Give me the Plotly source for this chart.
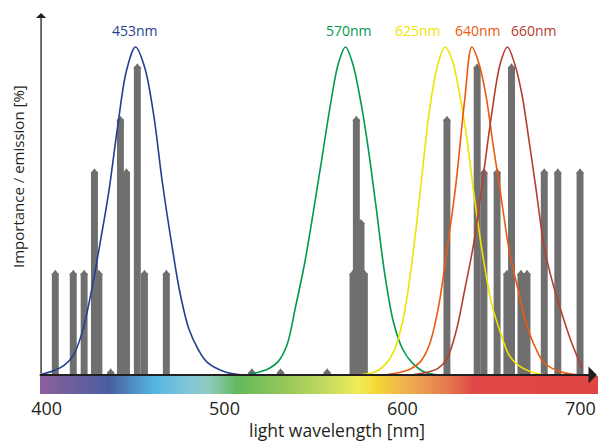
import numpy as np
import plotly.graph_objects as go

# ---------------- data ----------------
bar_nm = [404.9, 415.0, 421.1, 426.9, 429.4, 436.0, 441.5, 444.9, 451.0, 455.0, 467.3,
          515.4, 531.5, 557.7,
          572.2, 574.1, 576.7, 578.6,
          625.0, 642.0, 645.8, 653.2, 658.7, 661.3, 666.6, 670.0, 679.7, 687.3, 699.8]
bar_val = [31, 31, 31, 62, 31, 1, 78, 62, 94, 31, 31,
           1, 1, 1,
           31, 78, 46.5, 31,
           78, 94, 62, 62, 31, 94, 31, 31, 62, 62, 62]

blue_nm = [396, 405, 410, 415, 420, 425, 430, 435, 440, 445, 450, 455, 460, 465, 470, 475, 480, 485, 490, 500, 510]
blue_val = [0, 1.5, 3, 6, 13, 25, 40, 56, 76, 93, 100, 94, 80, 59, 41, 25, 14, 8, 4, 1, 0]

green_nm = [512, 520, 525, 530, 535, 540, 545, 550, 555, 560, 564, 568, 572, 576, 580, 585, 590, 595, 600, 605, 612, 620]
green_val = [0, 1, 2, 4, 9, 21, 34, 50, 67, 84, 95, 100, 95, 85, 72, 52, 31, 16, 8, 4, 1, 0]

yellow_nm = [575, 585, 590, 595, 600, 605, 610, 615, 620, 624, 628, 632, 636, 640, 645, 650, 655, 660, 665, 675, 682]
yellow_val = [0, 1, 3, 7, 16, 33, 56, 80, 95, 100, 96, 86, 73, 56, 37, 22, 13, 6, 3, 0.5, 0]

orange_nm = [590, 600, 605, 610, 615, 620, 625, 630, 635, 639, 643, 647, 651, 655, 660, 665, 670, 675, 680, 690, 700]
orange_val = [0, 1, 2, 4, 9, 20, 38, 58, 84, 100, 95, 85, 70, 56, 38, 26, 15, 8, 3.5, 0.8, 0]

brown_nm = [605, 615, 620, 625, 630, 635, 640, 645, 650, 655, 659, 663, 667, 671, 675, 680, 685, 690, 695, 701]
brown_val = [0, 1, 2, 5, 13, 26, 40, 59, 79, 95, 100, 95, 86, 72, 57, 38, 27, 18, 10, 2]

curve_labels = ["453nm", "570nm", "625nm", "640nm", "660nm"]
label_nm = [449.6, 569.9, 609.0, 642.2, 673.9]
curve_colors = ["#243f90", "#009a4e", "#efe400", "#ec5a10", "#b3402c"]

spec_nm = [396.3, 435, 460, 479, 491, 507, 535, 555, 575, 585, 605, 625, 640, 709.9]
spec_col = ["#8c5f9c", "#4a5fa0", "#55b4e4", "#80c6d8", "#90cbc0", "#62b85a", "#98c85a",
            "#c0d860", "#f0ec5a", "#f5d835", "#eda850", "#e67a4e", "#e04848", "#e04545"]

tick_vals = [400, 500, 600, 700]
tick_text = ["400", "500", "600", "700"]

# ---------------- figure ----------------
XMIN, XMAX = 396.3, 709.9
YMAX = 111.3
FONT = "Open Sans"
TXT = "#231f20"
GRAY = "#706f6f"

fig = go.Figure()

# spectrum strip
grid = np.linspace(XMIN, XMAX, 600)
cs = [[(v - XMIN) / (XMAX - XMIN), c] for v, c in zip(spec_nm, spec_col)]
fig.add_trace(go.Heatmap(x=grid, y=[0], z=[grid], colorscale=cs, zmin=XMIN, zmax=XMAX,
                         showscale=False, zsmooth="best", xaxis="x", yaxis="y2",
                         hoverinfo="skip"))

# importance bars
fig.add_trace(go.Bar(x=bar_nm, y=bar_val, width=3.9, marker=dict(color=GRAY, line=dict(width=0)),
                     xaxis="x", yaxis="y", showlegend=False))
fig.add_trace(go.Scatter(x=bar_nm, y=bar_val, mode="markers",
                         marker=dict(symbol="triangle-up", size=7, color=GRAY, line=dict(width=0)),
                         xaxis="x", yaxis="y", showlegend=False, cliponaxis=False))

# emission curves
for xs, ys, col in zip([blue_nm, green_nm, yellow_nm, orange_nm, brown_nm],
                       [blue_val, green_val, yellow_val, orange_val, brown_val],
                       curve_colors):
    fig.add_trace(go.Scatter(x=xs, y=ys, mode="lines", line=dict(color=col, width=1.6, shape="spline", smoothing=1.0),
                             xaxis="x", yaxis="y", showlegend=False))

annotations = []
for t, xn, col in zip(curve_labels, label_nm, curve_colors):
    annotations.append(dict(x=xn, y=104.9, xref="x", yref="y", text=t, showarrow=False,
                            xanchor="center", yanchor="middle",
                            font=dict(family=FONT, size=14, color=col)))

# axis arrows
annotations.append(dict(x=396.9, y=110.4, ax=396.9, ay=0, xref="x", yref="y", axref="x", ayref="y",
                        text="", showarrow=True, arrowhead=1, arrowsize=1.3, arrowwidth=1.3,
                        arrowcolor=TXT, standoff=0, startstandoff=0))
annotations.append(dict(x=XMAX - 0.6, y=0, ax=395.3, ay=0, xref="x", yref="y", axref="x", ayref="y",
                        text="", showarrow=True, arrowhead=1, arrowsize=1.4, arrowwidth=2.0,
                        arrowcolor=TXT, standoff=0, startstandoff=0))

annotations.append(dict(x=-0.0394, y=(394 - 177) / 384, xref="paper", yref="paper",
                        text="Importance / emission [%]", xanchor="center", yanchor="middle",
                        textangle=-90, showarrow=False, font=dict(family=FONT, size=15, color=TXT)))
annotations.append(dict(x=(337 - 40) / 558, y=(394 - 430) / 384, xref="paper", yref="paper",
                        text="light wavelength [nm]", xanchor="center", yanchor="middle",
                        showarrow=False, font=dict(family=FONT, size=17.5, color=TXT)))

fig.update_layout(
    width=598, height=441,
    margin=dict(l=40, r=0, t=10, b=47, autoexpand=False),
    paper_bgcolor="white", plot_bgcolor="white",
    barmode="overlay", showlegend=False,
    xaxis=dict(range=[XMIN, XMAX], anchor="y2", tickvals=tick_vals, ticktext=tick_text,
               showgrid=False, zeroline=False, showline=False, ticks="", automargin=False,
               tickfont=dict(family=FONT, size=18, color=TXT), ticklabelstandoff=2),
    yaxis=dict(range=[0, YMAX], domain=[0.0495, 1], visible=False, fixedrange=True, automargin=False),
    yaxis2=dict(range=[-0.5, 0.5], domain=[0, 0.0469], visible=False, automargin=False),
    annotations=annotations,
)

fig.write_html("out.html", config={"displayModeBar": False},
               post_script="document.body.style.margin='0';document.body.style.overflow='hidden';")
